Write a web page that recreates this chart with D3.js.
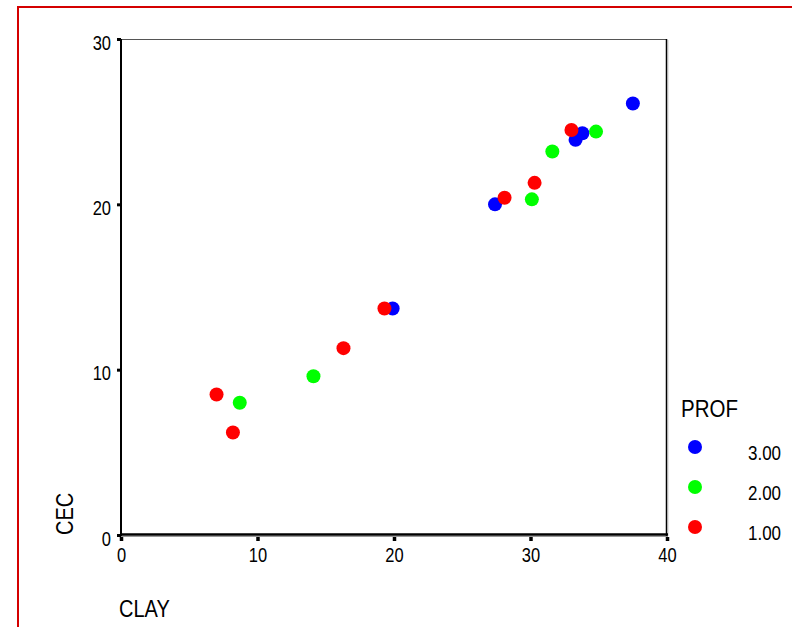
<!DOCTYPE html>
<html>
<head>
<meta charset="utf-8">
<script src="https://cdn.jsdelivr.net/npm/d3@7"></script>
<style>
  body { margin: 0; background: #fff; }
  text { font-family: "Liberation Sans", Arial, sans-serif; fill: #000; }
</style>
</head>
<body>
<div id="chart"></div>
<script>
// values (CLAY vs CEC, by PROF)
const profLevels = ["3.00", "2.00", "1.00"];
const profColors = ["#0000ff", "#00ff00", "#ff0000"];

const clayProf3 = [37.5, 33.8, 33.3, 27.4, 19.9];
const cecProf3  = [26.1, 24.3, 23.9, 20.0, 13.7];
const clayProf2 = [34.8, 31.6, 30.1, 14.1, 8.7];
const cecProf2  = [24.4, 23.2, 20.3, 9.6, 8.0];
const clayProf1 = [33.0, 30.3, 28.1, 19.3, 16.3, 7.0, 8.2];
const cecProf1  = [24.5, 21.3, 20.4, 13.7, 11.3, 8.5, 6.2];

const xTicks = [0, 10, 20, 30, 40];
const yTicks = [0, 10, 20, 30];

const series = [
  { key: profLevels[0], color: profColors[0], xs: clayProf3, ys: cecProf3 },
  { key: profLevels[1], color: profColors[1], xs: clayProf2, ys: cecProf2 },
  { key: profLevels[2], color: profColors[2], xs: clayProf1, ys: cecProf1 }
];

const width = 792, height = 627;
const svg = d3.select("#chart").append("svg")
    .attr("width", width)
    .attr("height", height);

// red frame around the whole output
svg.append("rect")
    .attr("x", 18).attr("y", 7)
    .attr("width", 900).attr("height", 800)
    .attr("fill", "none")
    .attr("stroke", "#d40000")
    .attr("stroke-width", 2);

const x = d3.scaleLinear().domain([0, 40]).range([121, 667]);
const y = d3.scaleLinear().domain([0, 30]).range([535, 39]);

// plot frame
svg.append("line").attr("x1", 121).attr("x2", 667).attr("y1", 39.5).attr("y2", 39.5)
    .attr("stroke", "#555").attr("stroke-width", 1);
svg.append("line").attr("x1", 666.5).attr("x2", 666.5).attr("y1", 39).attr("y2", 536)
    .attr("stroke", "#000").attr("stroke-width", 1.5);
svg.append("line").attr("x1", 667.8).attr("x2", 667.8).attr("y1", 40).attr("y2", 536)
    .attr("stroke", "#aaa").attr("stroke-width", 1);
svg.append("line").attr("x1", 121).attr("x2", 121).attr("y1", 39).attr("y2", 536)
    .attr("stroke", "#000").attr("stroke-width", 2);
svg.append("line").attr("x1", 120).attr("x2", 668).attr("y1", 534.5).attr("y2", 534.5)
    .attr("stroke", "#000").attr("stroke-width", 2.5);
svg.append("line").attr("x1", 120).attr("x2", 668).attr("y1", 536.5).attr("y2", 536.5)
    .attr("stroke", "#999").attr("stroke-width", 1);

// tick labels in the original are tall and narrow
const stretch = 1.25;

// y axis
const yAxis = svg.append("g")
    .attr("transform", "translate(121,0)")
    .call(d3.axisLeft(y).tickValues(yTicks).tickSizeInner(4).tickSizeOuter(0).tickPadding(6));
yAxis.select(".domain").remove();
yAxis.selectAll(".tick line").attr("stroke", "#000").attr("stroke-width", 3);
yAxis.selectAll(".tick text")
    .attr("font-size", 16.5)
    .attr("font-family", "Liberation Sans, Arial, sans-serif")
    .attr("dy", 0)
    .attr("y", 8.2)
    .attr("transform", `scale(1,${stretch})`);

// x axis
const xAxis = svg.append("g")
    .attr("transform", "translate(0,537)")
    .call(d3.axisBottom(x).tickValues(xTicks).tickSizeInner(4).tickSizeOuter(0).tickPadding(9));
xAxis.select(".domain").remove();
xAxis.selectAll(".tick line").attr("stroke", "#000").attr("stroke-width", 3.5);
xAxis.selectAll(".tick text")
    .attr("font-size", 16.5)
    .attr("font-family", "Liberation Sans, Arial, sans-serif")
    .attr("dy", 0)
    .attr("y", 19.8)
    .attr("transform", `scale(1,${stretch})`);

// axis titles
svg.append("text")
    .attr("transform", "translate(119,617) scale(1,1.18)")
    .attr("font-size", 20)
    .text("CLAY");
svg.append("text")
    .attr("transform", "translate(73,535) rotate(-90) scale(1,1.18)")
    .attr("font-size", 20)
    .text("CEC");

// points
series.forEach(s => {
    svg.append("g").selectAll("circle")
        .data(d3.zip(s.xs, s.ys))
        .enter()
        .append("circle")
        .attr("cx", d => x(d[0]))
        .attr("cy", d => y(d[1]))
        .attr("r", 7)
        .attr("fill", s.color);
});

// legend
svg.append("text")
    .attr("transform", "translate(681,417) scale(1,1.15)")
    .attr("font-size", 20.5)
    .text("PROF");
const legend = svg.append("g").selectAll("g")
    .data(series)
    .enter()
    .append("g")
    .attr("transform", (d, i) => `translate(0,${447 + i * 40})`);
legend.append("circle")
    .attr("cx", 695).attr("cy", 0).attr("r", 7)
    .attr("fill", d => d.color);
legend.append("text")
    .attr("transform", "translate(748,13) scale(1,1.18)")
    .attr("font-size", 17)
    .text(d => d.key);
</script>
</body>
</html>
